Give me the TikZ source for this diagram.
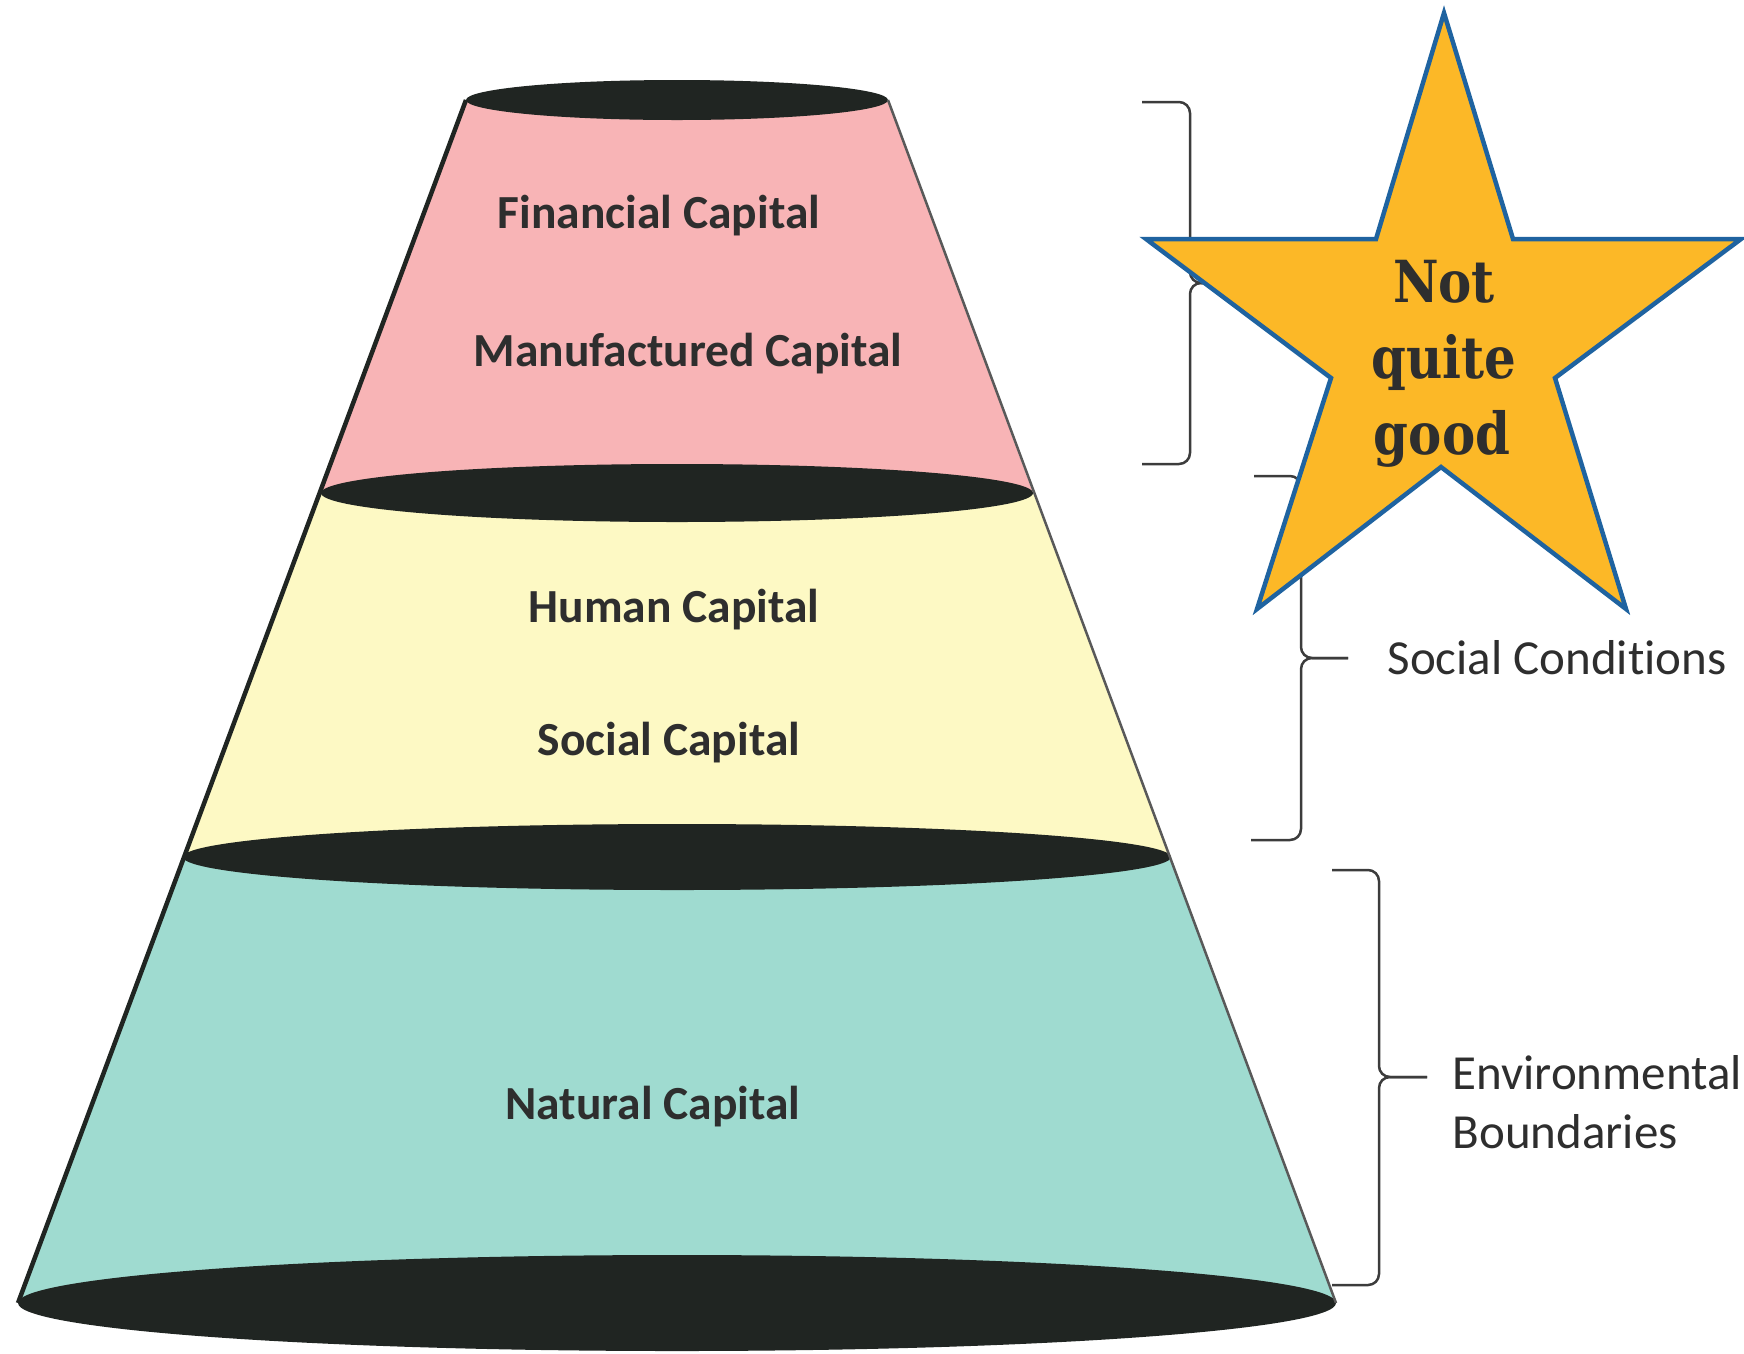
\documentclass[tikz,border=0pt]{standalone}
\usepackage{fontspec}
\usepackage{tikz}
\newfontfamily\calfont[Ligatures=NoCommon]{Carlito}
\newfontfamily\starfont[FakeStretch=0.86]{DejaVu Serif}

\definecolor{pinkband}{HTML}{F8B4B6}
\definecolor{yellowband}{HTML}{FDF9C4}
\definecolor{tealband}{HTML}{9FDBD0}
\definecolor{rimcol}{HTML}{202522}
\definecolor{starfill}{HTML}{FCB827}
\definecolor{starline}{HTML}{1F63A0}
\definecolor{textgray}{HTML}{2E2E2E}
\definecolor{bracecol}{HTML}{3C3C3C}

\begin{document}
\begin{tikzpicture}[x=1pt, y=-1pt]

\useasboundingbox (0,0) rectangle (1744,1353);

\def\xc{677}

\def\ya{100}
\def\yb{493}
\def\yc{857}
\def\yd{1303}

\def\rxa{211}
\def\rxb{356}
\def\rxc{494}
\def\rxd{659}

\def\rya{20}
\def\ryb{29}
\def\ryc{33}
\def\ryd{48}

\tikzset{captext/.style={font=\calfont\bfseries\fontsize{47.5}{56}\selectfont, text=textgray, anchor=base}}
\tikzset{sidetext/.style={font=\calfont\fontsize{49}{58}\selectfont, text=textgray, anchor=base west}}
\tikzset{startext/.style={font=\starfont\bfseries\fontsize{58}{70}\selectfont, text=textgray, anchor=base}}
\tikzset{brace/.style={bracecol, line width=2.5pt, rounded corners=11pt}}

%bands of the cone
\fill[pinkband]   (\xc-\rxa,\ya) -- (\xc+\rxa,\ya) -- (\xc+\rxb,\yb) -- (\xc-\rxb,\yb) -- cycle;
\fill[yellowband] (\xc-\rxb,\yb) -- (\xc+\rxb,\yb) -- (\xc+\rxc,\yc) -- (\xc-\rxc,\yc) -- cycle;
\fill[tealband]   (\xc-\rxc,\yc) -- (\xc+\rxc,\yc) -- (\xc+\rxd,\yd) -- (\xc-\rxd,\yd) -- cycle;

%rims
\fill[rimcol] (\xc,\ya) ellipse [x radius=\rxa, y radius=\rya];
\fill[rimcol] (\xc,\yb) ellipse [x radius=\rxb, y radius=\ryb];
\fill[rimcol] (\xc,\yc) ellipse [x radius=\rxc, y radius=\ryc];
\fill[rimcol] (\xc,\yd) ellipse [x radius=\rxd, y radius=\ryd];

%sides
\draw[line width=4.5pt, rimcol] (\xc-\rxa,\ya) -- (\xc-\rxd,\yd);
\draw[line width=2.5pt, black!65] (\xc+\rxa,\ya) -- (\xc+\rxd,\yd);

%capitals
\node[captext] (fin) at (659,228) {Financial Capital};
\node[captext] (man) at (688,366) {Manufactured Capital};
\node[captext] (hum) at (674,622) {Human Capital};
\node[captext] (soc) at (669,755) {Social Capital};
\node[captext] (nat) at (653,1119) {Natural Capital};

%braces
\draw[brace] (1142,102) -- (1190,102) -- (1190,283) -- (1237,283);
\draw[brace] (1142,464) -- (1190,464) -- (1190,283) -- (1237,283);

\draw[brace] (1254,476) -- (1301,476) -- (1301,658) -- (1348,658);
\draw[brace] (1251,840) -- (1301,840) -- (1301,658) -- (1348,658);

\draw[brace] (1332,870) -- (1379,870) -- (1379,1077) -- (1427,1077);
\draw[brace] (1332,1285) -- (1379,1285) -- (1379,1077) -- (1427,1077);

\node[sidetext] (cond) at (1384,674) {Social Conditions};
\node[sidetext] (env) at (1449,1089) {Environmental};
\node[sidetext] (bound) at (1449,1148) {Boundaries};

%star
\filldraw[fill=starfill, draw=starline, line width=4.5pt, line join=miter]
  (1444,13) -- (1513,239) -- (1741,239) -- (1555,378) -- (1626,609)
  -- (1441,467) -- (1257,609) -- (1331,378) -- (1146,239) -- (1376,239) -- cycle;

\node[startext] (sn) at (1444,302) {Not};
\node[startext] (sq) at (1444,378) {quite};
\node[startext] (sg) at (1442,454) {good};

\end{tikzpicture}
\end{document}
